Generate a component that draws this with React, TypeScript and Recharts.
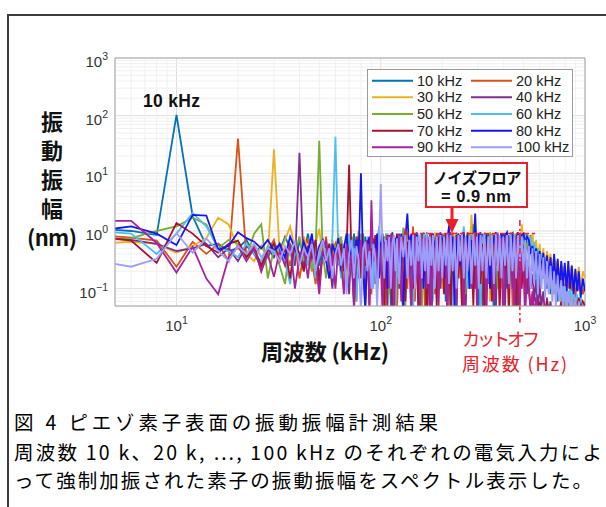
import React from 'react';
import { LineChart, Line, XAxis, YAxis, CartesianGrid, ReferenceLine, Legend } from 'recharts';

// Frequency grid (kHz)
const FREQ_KHZ = [
  4, 6, 8, 10, 12, 14, 16, 18, 20, 22, 24, 26, 28, 30,
  32, 34, 36, 38, 40, 42, 44, 46, 48, 50, 52, 54, 56, 58, 60,
  62, 64, 66, 68, 70, 72, 74, 76, 78, 80, 82, 84, 86, 88, 90, 92, 94, 96, 98, 100,
  102, 104, 106, 108, 110, 112, 114, 116, 118, 120, 123, 126, 129, 132, 135, 138, 141, 144, 147, 150,
  153, 156, 159, 162, 165, 168, 171, 174, 177, 180, 184, 188, 192, 196,
  200, 204, 208, 212, 216, 220, 225, 230, 235, 240, 245, 250, 255, 260, 266, 272, 278, 284, 290, 296,
  302, 308, 315, 322, 329, 336, 343, 350, 358, 366, 374, 382, 390, 398,
  406, 415, 424, 433, 442, 451, 460, 470, 480, 490, 500, 510, 520,
  531, 542, 553, 564, 576, 588, 600, 612, 625, 638, 651, 664, 678, 692, 706, 720, 735, 750, 765, 780,
  796, 812, 828, 845, 862, 879, 897, 915, 933, 952, 976, 1000,
];

// Amplitude (nm) for each excitation frequency
const AMP_10K = [
  1.1, 1.0, 0.85, 103, 1.8, 0.55, 0.6, 0.45, 0.5, 0.7, 0.4, 0.55, 0.35, 0.6,
  0.45, 0.8, 0.5, 0.3, 0.65, 0.4, 0.9, 0.35, 0.5, 0.25, 0.7, 0.45, 0.3, 0.6, 0.4,
  0.8, 0.3, 0.5, 0.2, 0.65, 0.35, 0.9, 0.15, 0.45, 0.6, 0.25, 0.8, 0.3, 0.12, 0.55, 0.7, 0.2, 0.45, 1.1, 0.3,
  0.55, 0.12, 0.7, 0.3, 0.85, 0.05, 0.45, 0.8, 0.2, 0.6, 0.1, 0.75, 0.35, 0.9, 0.15, 0.5, 0.04, 0.7, 0.3, 0.85,
  0.2, 0.6, 0.08, 0.8, 0.4, 0.95, 0.15, 0.55, 0.03, 0.75, 0.35, 0.9, 0.12, 0.6,
  0.25, 0.85, 0.06, 0.5, 0.9, 0.2, 0.7, 0.35, 0.04, 0.8, 0.45, 0.15, 0.9, 0.3, 0.65, 0.1, 0.85, 0.4, 0.2, 0.75,
  0.05, 0.6, 0.9, 0.25, 0.7, 0.12, 0.85, 0.4, 0.03, 0.8, 0.5, 0.15, 0.9, 0.35,
  0.7, 0.1, 0.85, 0.4, 0.6, 0.05, 0.8, 0.3, 0.9, 0.2, 0.7, 0.45, 0.8,
  0.35, 0.6, 0.2, 0.45, 0.15, 0.4, 0.12, 0.3, 0.18, 0.28, 0.1, 0.22, 0.08, 0.2, 0.12, 0.17, 0.06, 0.15, 0.09, 0.13,
  0.05, 0.11, 0.07, 0.1, 0.04, 0.08, 0.05, 0.07, 0.03, 0.06, 0.04, 0.05,
];
const AMP_20K = [
  0.85, 0.77, 0.68, 0.24, 0.65, 0.4, 0.6, 0.3, 40, 0.35, 0.55, 0.2, 0.45, 0.7,
  0.3, 0.5, 0.25, 0.6, 0.15, 0.4, 0.75, 0.3, 0.12, 0.5, 0.35, 0.8, 0.2, 0.45, 0.6,
  0.25, 0.7, 0.1, 0.5, 0.35, 0.8, 0.2, 0.06, 0.55, 0.3, 0.9, 0.15, 0.4, 0.65, 0.08, 0.5, 0.3, 0.75, 0.2, 0.45,
  0.3, 0.8, 0.05, 0.6, 0.25, 0.9, 0.15, 0.5, 0.75, 0.04, 0.55, 0.2, 0.85, 0.4, 0.1, 0.7, 0.3, 1.2, 0.06, 0.5,
  0.8, 0.15, 0.65, 0.35, 0.03, 0.75, 0.45, 0.9, 0.2, 0.55, 0.08, 0.8, 0.3, 0.7,
  0.9, 0.15, 0.55, 0.04, 0.75, 0.35, 0.95, 0.1, 0.6, 0.25, 0.85, 0.05, 0.5, 0.8, 0.2, 0.9, 0.4, 0.12, 0.7, 0.3,
  0.85, 0.15, 0.55, 0.03, 0.8, 0.35, 0.6, 0.9, 0.1, 0.45, 0.75, 0.2, 0.6, 0.85,
  0.15, 0.9, 0.35, 0.7, 0.05, 0.8, 0.5, 0.25, 0.85, 0.6, 0.95, 0.4, 0.75,
  0.5, 0.85, 0.3, 0.6, 0.2, 0.5, 0.25, 0.4, 0.15, 0.35, 0.2, 0.3, 0.12, 0.25, 0.15, 0.22, 0.1, 0.2, 0.12, 0.18,
  0.08, 0.16, 0.1, 0.2, 0.09, 0.15, 0.07, 0.14, 0.1, 0.12, 0.08, 0.11,
];
const AMP_30K = [
  0.6, 0.65, 0.6, 0.42, 0.55, 0.75, 1.7, 1.3, 0.5, 0.4, 0.3, 0.55, 0.35, 26,
  0.4, 0.7, 1.2, 0.5, 0.3, 0.8, 0.45, 0.2, 0.6, 1.1, 0.35, 0.5, 0.15, 0.7, 0.4,
  0.9, 0.3, 0.55, 0.15, 0.75, 0.4, 0.2, 0.65, 1.0, 0.25, 0.5, 0.08, 0.7, 0.35, 0.9, 0.2, 0.6, 0.1, 0.45, 0.8,
  0.8, 0.2, 0.65, 0.9, 0.1, 0.5, 0.75, 0.3, 0.05, 0.85, 0.4, 0.7, 0.15, 0.6, 0.95, 0.25, 0.8, 0.06, 0.55, 0.35,
  0.9, 0.12, 0.7, 0.45, 0.85, 0.2, 0.6, 0.04, 0.75, 0.4, 0.95, 0.25, 0.55, 0.8,
  0.1, 0.7, 0.4, 0.9, 0.2, 0.6, 0.05, 0.85, 0.35, 0.75, 0.15, 0.95, 0.5, 0.25, 0.8, 0.4, 1.9, 0.6, 0.3, 0.9,
  0.12, 0.7, 0.45, 0.95, 0.2, 0.8, 0.06, 0.65, 0.9, 0.3, 0.85, 0.5, 0.1, 0.9,
  0.4, 0.95, 0.25, 0.8, 0.55, 0.9, 0.15, 0.85, 0.45, 1.3, 0.6, 0.9, 0.7,
  0.85, 0.5, 0.9, 0.4, 0.7, 0.3, 0.6, 0.25, 0.5, 0.2, 0.45, 0.3, 0.4, 0.2, 0.35, 0.25, 0.3, 0.15, 0.28, 0.2,
  0.25, 0.12, 0.22, 0.18, 0.26, 0.12, 0.2, 0.15, 0.24, 0.1, 0.2, 0.15,
];
const AMP_40K = [
  0.75, 0.7, 0.6, 0.45, 0.5, 0.6, 0.35, 0.5, 0.3, 0.55, 0.4, 0.25, 0.5, 0.35,
  0.6, 0.3, 0.45, 0.25, 22.8, 0.2, 0.55, 0.35, 0.7, 0.15, 0.4, 0.6, 0.3, 0.1, 0.5,
  0.35, 0.7, 0.2, 0.45, 0.08, 0.6, 0.3, 0.8, 0.15, 0.5, 0.25, 0.04, 0.65, 0.35, 0.2, 0.75, 0.12, 0.4, 0.6, 0.2,
  0.15, 0.7, 0.4, 0.05, 0.85, 0.3, 0.6, 0.1, 0.75, 0.45, 0.9, 0.2, 0.03, 0.65, 0.35, 0.8, 0.12, 0.55, 0.9, 0.25,
  0.05, 0.7, 0.4, 0.85, 0.15, 0.6, 0.3, 0.02, 0.8, 0.5, 0.2, 0.65, 0.9, 0.1,
  0.6, 0.3, 0.8, 0.05, 0.5, 0.9, 0.2, 0.04, 0.7, 0.4, 0.85, 0.15, 0.6, 0.03, 0.75, 0.35, 0.55, 0.9, 0.1, 0.45,
  0.8, 0.25, 0.05, 0.7, 0.4, 0.9, 0.15, 0.6, 0.3, 0.04, 0.75, 0.5, 0.2, 0.65,
  0.05, 0.8, 0.35, 0.6, 0.1, 0.7, 0.25, 0.04, 0.5, 0.3, 0.15, 0.4, 0.08,
  0.25, 0.1, 0.18, 0.06, 0.15, 0.04, 0.12, 0.05, 0.09, 0.03, 0.07, 0.04, 0.06, 0.03, 0.05, 0.02, 0.05, 0.03, 0.04, 0.02,
  0.04, 0.03, 0.05, 0.02, 0.04, 0.03, 0.04, 0.02, 0.03, 0.02, 0.03, 0.02,
];
const AMP_50K = [
  0.7, 0.75, 1.0, 1.2, 1.7, 1.3, 0.5, 0.7, 0.6, 0.35, 0.9, 1.3, 0.15, 0.5,
  0.25, 0.12, 0.6, 0.4, 0.8, 0.3, 0.5, 0.2, 0.5, 36.8, 0.4, 0.15, 0.6, 0.3, 0.55,
  0.3, 0.8, 0.1, 0.55, 0.35, 0.75, 0.05, 0.5, 0.25, 0.9, 0.15, 0.6, 0.4, 0.08, 0.7, 0.3, 0.5, 0.2, 0.85, 0.35,
  0.6, 0.25, 0.9, 0.4, 0.08, 0.7, 0.2, 0.85, 0.5, 0.15, 0.75, 0.35, 1.15, 0.05, 0.6, 0.3, 0.8, 0.45, 0.1, 0.9,
  0.35, 0.7, 0.04, 0.55, 0.85, 0.2, 0.65, 0.4, 0.9, 0.12, 0.7, 0.3, 0.85, 0.5,
  0.75, 0.12, 0.9, 0.35, 0.6, 0.04, 0.8, 0.45, 0.95, 0.2, 0.65, 0.3, 0.85, 0.08, 0.55, 0.9, 0.4, 1.3, 0.25, 0.7,
  0.15, 0.85, 0.5, 0.05, 0.75, 0.35, 0.95, 0.2, 0.6, 0.85, 0.1, 0.7, 0.4, 0.9,
  0.3, 0.85, 0.55, 0.95, 0.2, 0.7, 0.9, 0.4, 0.8, 0.6, 0.9, 0.5, 0.7,
  0.45, 0.7, 0.35, 0.55, 0.25, 0.45, 0.2, 0.35, 0.15, 0.3, 0.12, 0.25, 0.1, 0.2, 0.08, 0.18, 0.09, 0.15, 0.06, 0.12,
  0.05, 0.1, 0.06, 0.09, 0.04, 0.08, 0.05, 0.07, 0.04, 0.06, 0.04, 0.05,
];
const AMP_60K = [
  1.0, 0.9, 0.4, 0.9, 2.05, 1.2, 0.5, 0.45, 0.35, 0.6, 0.4, 0.3, 0.55, 0.4,
  0.5, 0.3, 0.12, 0.45, 0.35, 0.6, 0.25, 0.7, 0.15, 0.5, 0.3, 0.45, 0.2, 0.8, 43,
  0.4, 0.15, 0.6, 0.3, 0.9, 0.2, 0.5, 0.06, 0.7, 0.35, 0.55, 0.15, 0.8, 0.3, 0.45, 0.1, 0.65, 0.25, 1.2, 0.4,
  0.2, 0.75, 0.45, 0.9, 0.1, 0.6, 0.3, 0.85, 0.05, 0.55, 0.8, 0.25, 0.65, 0.9, 0.15, 0.5, 0.75, 0.04, 0.6, 0.35,
  0.85, 0.2, 0.7, 0.95, 0.1, 0.45, 0.8, 0.3, 0.65, 0.06, 0.55, 0.9, 0.2, 0.75,
  0.4, 0.9, 0.15, 0.65, 0.85, 0.3, 0.03, 0.7, 0.5, 0.9, 0.2, 0.6, 1.2, 0.35, 0.1, 0.8, 0.45, 0.75, 0.9, 0.25,
  0.65, 0.05, 0.8, 0.4, 0.9, 0.15, 0.55, 0.85, 0.3, 0.7, 0.95, 0.2, 0.6, 0.8,
  0.5, 0.9, 0.2, 0.75, 0.95, 0.35, 0.8, 0.6, 0.9, 0.45, 0.85, 0.7, 0.9,
  0.6, 0.8, 0.4, 0.65, 0.3, 0.5, 0.25, 0.4, 0.2, 0.32, 0.15, 0.28, 0.12, 0.22, 0.1, 0.18, 0.09, 0.15, 0.07, 0.13,
  0.06, 0.11, 0.05, 0.1, 0.06, 0.09, 0.05, 0.08, 0.04, 0.07, 0.05, 0.06,
];
const AMP_70K = [
  0.82, 0.68, 0.28, 1.37, 0.9, 0.55, 0.42, 0.6, 0.68, 0.35, 0.5, 0.25, 0.45, 0.6,
  0.3, 0.5, 0.15, 0.65, 0.4, 0.2, 0.55, 0.35, 0.7, 0.12, 0.45, 0.3, 0.6, 0.25, 0.5,
  0.35, 0.6, 0.2, 0.4, 14, 0.3, 0.06, 0.55, 0.8, 0.15, 0.45, 0.25, 0.7, 0.05, 0.5, 0.3, 0.85, 0.1, 0.4, 0.6,
  0.7, 0.05, 0.5, 0.85, 0.2, 0.6, 0.03, 0.75, 0.4, 0.9, 0.15, 0.55, 0.8, 0.06, 0.65, 0.3, 0.9, 0.1, 0.45, 0.75,
  0.04, 0.6, 0.85, 0.25, 0.5, 0.02, 0.7, 0.35, 0.9, 0.15, 0.55, 0.05, 0.8, 0.4,
  0.65, 0.08, 0.9, 0.3, 0.55, 0.03, 0.75, 0.45, 0.85, 0.15, 0.6, 0.04, 0.8, 0.35, 0.95, 0.2, 0.5, 0.05, 0.7, 0.4,
  0.9, 0.12, 0.6, 0.03, 0.8, 0.3, 0.55, 0.06, 0.85, 0.25, 0.7, 0.04, 0.5, 0.9,
  0.2, 0.65, 0.03, 0.8, 0.35, 0.55, 0.05, 0.7, 0.25, 0.1, 0.45, 0.06, 0.2,
  0.1, 0.04, 0.08, 0.03, 0.07, 0.02, 0.06, 0.04, 0.05, 0.03, 0.06, 0.03, 0.05, 0.02, 0.04, 0.03, 0.05, 0.04, 0.06, 0.03,
  0.05, 0.04, 0.06, 0.03, 0.05, 0.04, 0.06, 0.05, 0.07, 0.04, 0.06, 0.05,
];
const AMP_80K = [
  1.0, 1.2, 0.9, 0.57, 1.9, 1.85, 0.47, 0.55, 0.95, 0.75, 0.65, 0.5, 0.7, 0.45,
  0.6, 0.35, 0.8, 0.5, 0.3, 0.65, 0.4, 0.9, 0.25, 0.55, 0.7, 0.3, 0.15, 0.6, 0.4,
  0.75, 0.2, 0.5, 0.9, 0.3, 0.6, 0.1, 0.7, 0.4, 10, 0.25, 0.05, 0.55, 0.8, 0.2, 0.65, 0.35, 0.9, 0.15, 0.5,
  0.9, 0.35, 0.7, 0.1, 0.85, 0.5, 0.95, 0.2, 0.65, 0.8, 0.3, 0.9, 0.05, 0.75, 2.0, 0.4, 0.85, 0.15, 0.6, 0.95,
  0.25, 0.7, 0.9, 0.1, 0.55, 0.85, 0.3, 0.75, 0.04, 0.9, 0.45, 0.8, 0.2, 0.95,
  0.6, 0.85, 0.15, 0.7, 1.25, 0.35, 0.8, 0.05, 0.6, 0.9, 0.25, 0.75, 0.95, 0.4, 0.85, 0.1, 0.7, 0.5, 2.0, 0.3,
  0.8, 0.95, 0.2, 0.65, 0.9, 0.45, 0.1, 0.85, 0.6, 0.95, 0.3, 0.75, 0.9, 0.5,
  0.85, 0.95, 0.4, 0.8, 0.9, 0.25, 0.75, 0.95, 0.55, 0.85, 0.9, 0.6, 0.8,
  0.7, 0.4, 0.55, 0.3, 0.5, 0.25, 0.45, 0.2, 0.42, 0.18, 0.38, 0.15, 0.35, 0.14, 0.4, 0.12, 0.33, 0.1, 0.3, 0.11,
  0.28, 0.09, 0.3, 0.1, 0.25, 0.08, 0.22, 0.09, 0.2, 0.07, 0.15, 0.09,
];
const AMP_90K = [
  1.5, 1.5, 0.62, 0.19, 0.53, 0.15, 0.08, 0.35, 0.55, 0.3, 0.5, 0.2, 0.4, 0.16,
  0.45, 0.25, 0.6, 0.1, 0.35, 0.5, 0.15, 0.65, 0.3, 0.08, 0.45, 0.7, 0.2, 0.4, 0.1,
  0.55, 0.3, 0.08, 0.6, 0.2, 0.4, 0.04, 0.5, 0.25, 0.7, 0.15, 0.45, 0.6, 0.05, 3.4, 0.3, 0.5, 0.1, 0.65, 0.35,
  0.04, 0.65, 0.3, 0.85, 0.1, 0.5, 0.9, 0.02, 0.6, 0.35, 0.8, 0.06, 0.45, 1.1, 0.2, 0.7, 0.03, 0.55, 0.85, 0.15,
  0.65, 0.04, 0.9, 0.3, 0.75, 0.1, 0.5, 0.85, 0.02, 0.6, 0.35, 0.9, 0.05, 0.7,
  0.15, 0.85, 0.4, 0.03, 0.7, 0.95, 0.2, 0.55, 0.05, 0.8, 0.3, 0.9, 0.02, 0.65, 0.4, 0.85, 0.1, 0.6, 0.95, 0.04,
  0.5, 0.8, 0.2, 0.9, 0.03, 0.7, 0.35, 0.85, 0.06, 0.6, 0.9, 0.15, 0.75, 0.02,
  0.6, 0.85, 0.1, 0.7, 0.3, 0.04, 0.8, 0.45, 0.05, 0.6, 0.2, 0.03, 0.3,
  0.12, 0.04, 0.09, 0.03, 0.07, 0.02, 0.05, 0.03, 0.04, 0.02, 0.04, 0.02, 0.03, 0.02, 0.04, 0.02, 0.03, 0.02, 0.04, 0.03,
  0.04, 0.02, 0.05, 0.03, 0.04, 0.03, 0.05, 0.03, 0.06, 0.04, 0.05, 0.04,
];
const AMP_100K = [
  0.31, 0.24, 0.33, 0.92, 0.42, 0.74, 0.45, 0.3, 0.55, 0.4, 0.6, 0.35, 0.5, 0.45,
  0.3, 0.55, 0.4, 0.65, 0.25, 0.5, 0.35, 0.6, 0.2, 0.45, 0.7, 0.3, 0.5, 0.15, 0.4,
  0.6, 0.25, 0.5, 0.08, 0.4, 0.7, 0.15, 0.55, 0.3, 0.04, 0.5, 0.65, 0.2, 0.45, 0.1, 0.6, 0.35, 0.05, 0.5, 6.5,
  0.5, 0.15, 0.7, 0.3, 0.8, 0.1, 0.6, 0.85, 0.2, 0.75, 0.12, 0.8, 0.35, 0.85, 0.15, 0.7, 0.25, 0.85, 0.1, 0.8,
  0.3, 0.85, 0.15, 0.75, 0.2, 0.9, 0.12, 0.8, 0.25, 0.85, 0.1, 0.8, 0.2, 0.85,
  0.15, 0.8, 0.25, 0.9, 0.12, 0.85, 0.2, 0.8, 0.1, 0.85, 0.3, 0.9, 0.15, 0.8, 0.2, 0.85, 0.12, 0.9, 0.25, 0.8,
  0.1, 0.85, 0.2, 0.9, 0.15, 0.8, 0.25, 0.85, 0.12, 0.9, 0.2, 0.85, 0.15, 0.8,
  0.25, 0.85, 0.12, 0.9, 0.2, 0.8, 0.15, 0.85, 0.3, 0.8, 0.2, 0.7, 0.15,
  0.55, 0.1, 0.5, 0.12, 0.45, 0.08, 0.4, 0.1, 0.35, 0.07, 0.3, 0.08, 0.25, 0.06, 0.2, 0.05, 0.17, 0.06, 0.14, 0.05,
  0.11, 0.04, 0.09, 0.04, 0.08, 0.03, 0.07, 0.03, 0.06, 0.03, 0.05, 0.04,
];

const SERIES_NAMES = ['10 kHz', '20 kHz', '30 kHz', '40 kHz', '50 kHz', '60 kHz', '70 kHz', '80 kHz', '90 kHz', '100 kHz'];
const SERIES_COLORS = ['#0072BD', '#D95319', '#EDB120', '#7E2F8E', '#77AC30', '#4DBEEE', '#A2142F', '#1515F2', '#A8229C', '#9E9EFA'];
const SERIES_VALUES = [AMP_10K, AMP_20K, AMP_30K, AMP_40K, AMP_50K, AMP_60K, AMP_70K, AMP_80K, AMP_90K, AMP_100K];

const X_TICKS = [10, 100, 1000];
const Y_TICKS = [0.1, 1, 10, 100, 1000];
const X_MINOR = [6, 7, 8, 9, 20, 30, 40, 50, 60, 70, 80, 90, 200, 300, 400, 500, 600, 700, 800, 900];
const Y_MINOR = [0.06, 0.07, 0.08, 0.09, 0.2, 0.3, 0.4, 0.5, 0.6, 0.7, 0.8, 0.9, 2, 3, 4, 5, 6, 7, 8, 9,
  20, 30, 40, 50, 60, 70, 80, 90, 200, 300, 400, 500, 600, 700, 800, 900];

const NOISE_FLOOR_NM = 0.9;
const NOISE_LINE_KHZ = [130, 570];
const CUTOFF_KHZ = 480;
const CUTOFF_SPAN_NM = [1.55, 0.026];

const SERIES = SERIES_NAMES.map((name, i) => ({
  key: `s${i}`,
  name,
  color: SERIES_COLORS[i],
  values: SERIES_VALUES[i],
}));

const DATA = FREQ_KHZ.map((f, i) => {
  const row: Record<string, number> = { f };
  SERIES.forEach((s) => {
    row[s.key] = s.values[i];
  });
  return row;
});

const LATIN = "'Liberation Sans', Arial, sans-serif";
const JP = "'Noto Sans CJK JP', 'Noto Sans', sans-serif";
const RED = '#e8202a';

const expOf = (v: number) => {
  const e = Math.round(Math.log10(v));
  return e < 0 ? `\u2212${-e}` : `${e}`;
};

const XTick = (props: any) => {
  const { x, y, payload } = props;
  return (
    <text x={x} y={y + 25} textAnchor="middle" fontFamily={LATIN} fontSize={15} fill="#333">
      10<tspan dy={-7} fontSize={10.5}>{expOf(payload.value)}</tspan>
    </text>
  );
};

const YTick = (props: any) => {
  const { x, y, payload } = props;
  return (
    <text x={x} y={y + 9} textAnchor="end" fontFamily={LATIN} fontSize={15} fill="#333">
      10<tspan dy={-7} fontSize={10.5}>{expOf(payload.value)}</tspan>
    </text>
  );
};

const LegendBox = () => (
  <svg width={206} height={88} style={{ display: 'block' }}>
    <rect x={0.5} y={0.5} width={205} height={87} fill="#fff" stroke="#9a9a9a" strokeWidth={1} />
    {SERIES.map((s, i) => {
      const col = i % 2;
      const row = Math.floor(i / 2);
      const cy = 11.7 + row * 16.65;
      const lx = col ? 104 : 5;
      return (
        <g key={s.key}>
          <line x1={lx} x2={lx + 41} y1={cy} y2={cy} stroke={s.color} strokeWidth={2} />
          <text x={lx + 45} y={cy} dominantBaseline="central" fontSize={14.5} fontFamily={LATIN} fill="#222">
            {s.name}
          </text>
        </g>
      );
    })}
  </svg>
);

export default function App() {
  return (
    <div style={{ position: 'absolute', left: 0, top: 0, width: 606, height: 507, overflow: 'hidden', background: '#fff' }}>
      <div
        style={{
          position: 'absolute', left: 7, top: 14, width: 700, height: 600,
          borderTop: '2px solid #3c3c3c', borderLeft: '2px solid #3c3c3c',
        }}
      />
      <div style={{ position: 'absolute', left: 0, top: 0 }}>
        <LineChart width={606} height={507} data={DATA} margin={{ top: 58, right: 21, bottom: 171, left: 65 }}>
          <CartesianGrid stroke="#dcdcdc" />
          {X_MINOR.map((v) => (
            <ReferenceLine key={`xm${v}`} x={v} stroke="#f0f0f0" strokeWidth={1} />
          ))}
          {Y_MINOR.map((v) => (
            <ReferenceLine key={`ym${v}`} y={v} stroke="#f0f0f0" strokeWidth={1} />
          ))}
          <XAxis
            dataKey="f" type="number" scale="log" domain={[5, 1000]} allowDataOverflow
            ticks={X_TICKS} interval={0} tick={(p: any) => <XTick {...p} />}
            tickLine={false} tickSize={0} tickMargin={0} height={30}
            axisLine={{ stroke: '#a8a8a8' }}
          />
          <YAxis
            type="number" scale="log" domain={[0.05, 1000]} allowDataOverflow
            ticks={Y_TICKS} interval={0} tick={(p: any) => <YTick {...p} />}
            tickLine={false} tickSize={0} tickMargin={7} width={50}
            axisLine={{ stroke: '#a8a8a8' }}
          />
          <ReferenceLine y={1000} stroke="#a8a8a8" ifOverflow="visible" />
          <ReferenceLine x={1000} stroke="#a8a8a8" ifOverflow="visible" />
          {SERIES.map((s) => (
            <Line
              key={s.key} dataKey={s.key} name={s.name} stroke={s.color} strokeWidth={1.8}
              dot={false} activeDot={false} isAnimationActive={false} type="linear"
            />
          ))}
          <ReferenceLine
            segment={[{ x: NOISE_LINE_KHZ[0], y: NOISE_FLOOR_NM }, { x: NOISE_LINE_KHZ[1], y: NOISE_FLOOR_NM }]}
            stroke={RED} strokeWidth={1.5} strokeDasharray="5 3" ifOverflow="visible"
          />
          <ReferenceLine
            segment={[{ x: CUTOFF_KHZ, y: CUTOFF_SPAN_NM[0] }, { x: CUTOFF_KHZ, y: CUTOFF_SPAN_NM[1] }]}
            stroke={RED} strokeWidth={1.5} strokeDasharray="6 3 2 3" ifOverflow="visible"
          />
          <Legend
            layout="horizontal" verticalAlign="middle" align="center"
            width={206} height={88}
            wrapperStyle={{ left: 367, top: 69, width: 206, height: 88 }}
            content={() => <LegendBox />}
          />
        </LineChart>
      </div>
      <svg width={606} height={507} style={{ position: 'absolute', left: 0, top: 0, pointerEvents: 'none' }}>
        <text x={171.5} y={101} textAnchor="middle" dominantBaseline="central" fontFamily={LATIN} fontWeight="bold" fontSize={17.5} fill="#111" textLength={57}>
          10 kHz
        </text>
        <text
          x={52} y={111} fontFamily={JP} fontWeight="bold" fontSize={22} fill="#111"
          style={{ writingMode: 'vertical-rl', letterSpacing: '6.8px' }}
        >
          振動振幅
        </text>
        <text x={52} y={236} textAnchor="middle" dominantBaseline="central" fontFamily={JP} fontWeight="bold" fontSize={22} fill="#111" textLength={50}>
          (nm)
        </text>
        <text x={325} y={350} textAnchor="middle" dominantBaseline="central" fontFamily={JP} fontWeight="bold" fontSize={22} fill="#111" textLength={128}>
          周波数 (kHz)
        </text>
        <rect x={426} y={163} width={101} height={44} fill="#fff" stroke={RED} strokeWidth={2} />
        <text x={477} y={177} textAnchor="middle" dominantBaseline="central" fontFamily={JP} fontWeight="bold" fontSize={15.5} fill="#111" textLength={89}>
          ノイズフロア
        </text>
        <text x={476} y={196} textAnchor="middle" dominantBaseline="central" fontFamily={LATIN} fontWeight="bold" fontSize={16.5} fill="#111" textLength={70}>
          = 0.9 nm
        </text>
        <line x1={452} x2={452} y1={207} y2={221} stroke={RED} strokeWidth={3} />
        <polygon points="445.5,219 458.5,219 452,233" fill={RED} />
        <text x={462} y={338} dominantBaseline="central" fontFamily={JP} fontSize={18} fill={RED} textLength={78}>
          カットオフ
        </text>
        <text x={462} y={363} dominantBaseline="central" fontFamily={JP} fontSize={18} fill={RED} textLength={105}>
          周波数 (Hz)
        </text>
        <text x={14} y={421} dominantBaseline="central" fontFamily={JP} fontSize={19.5} fill="#000" textLength={424}>
          図 4  ピエゾ素子表面の振動振幅計測結果
        </text>
        <text x={14} y={451} dominantBaseline="central" fontFamily={JP} fontSize={19.5} fill="#000" textLength={588}>
          周波数 10 k、20 k, …, 100 kHz のそれぞれの電気入力によ
        </text>
        <text x={14} y={479} dominantBaseline="central" fontFamily={JP} fontSize={19.5} fill="#000" textLength={578}>
          って強制加振された素子の振動振幅をスペクトル表示した。
        </text>
      </svg>
    </div>
  );
}
